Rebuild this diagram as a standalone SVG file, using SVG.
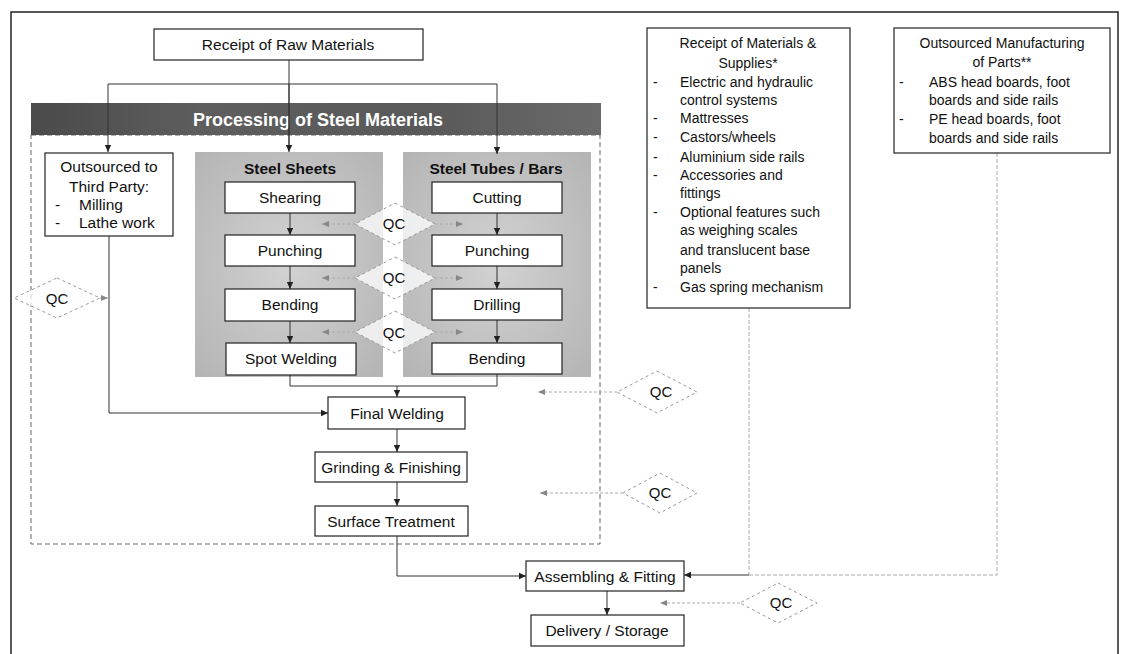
<svg xmlns="http://www.w3.org/2000/svg" width="1123" height="654" viewBox="0 0 1123 654">
<defs>
<style>
.t{font-family:"Liberation Sans",Arial,sans-serif;font-size:14px;fill:#111}
.l{font-size:15.5px}
.q{font-size:15px}
.c{text-anchor:middle}
.b{font-weight:bold}
.box{fill:#fff;stroke:#222;stroke-width:1.2}
.ln{fill:none;stroke:#333;stroke-width:1}
.qc{fill:#fff;fill-opacity:0.75;stroke:#999;stroke-width:1;stroke-dasharray:3 3}
.ql{fill:none;stroke:#aaa;stroke-width:1;stroke-dasharray:3 2}
.gl{fill:none;stroke:#aaa;stroke-width:1;stroke-dasharray:4 2}
</style>
<marker id="ah" markerWidth="8" markerHeight="8" refX="7" refY="4" orient="auto" markerUnits="userSpaceOnUse">
<path d="M0,0.8 L7,4 L0,7.2 z" fill="#222"/>
</marker>
<marker id="gh" markerWidth="8" markerHeight="8" refX="7" refY="4" orient="auto" markerUnits="userSpaceOnUse">
<path d="M0,1 L7,4 L0,7 z" fill="#888"/>
</marker>
<linearGradient id="hdr" x1="0" y1="0" x2="1" y2="0">
<stop offset="0" stop-color="#4a4a4a"/>
<stop offset="0.3" stop-color="#5e5e5e"/>
<stop offset="0.7" stop-color="#595959"/>
<stop offset="1" stop-color="#6a6a6a"/>
</linearGradient>
<radialGradient id="pan" cx="0.5" cy="0.5" r="0.7">
<stop offset="0" stop-color="#d2d2d2"/>
<stop offset="1" stop-color="#b4b4b4"/>
</radialGradient>
</defs>
<rect width="1123" height="654" fill="#fff"/>
<rect x="11" y="12" width="1107" height="670" fill="none" stroke="#222" stroke-width="1.5"/>

<g id="steel-area">
<rect x="31" y="135" width="569" height="409" fill="none" stroke="#666" stroke-width="1" stroke-dasharray="5 3"/>
<rect x="31" y="103" width="570" height="32" fill="url(#hdr)"/>
<text x="318" y="126" class="t c b" style="font-size:18px;fill:#fff">Processing of Steel Materials</text>
<rect x="195" y="152" width="188" height="225" fill="url(#pan)"/>
<rect x="403" y="152" width="188" height="225" fill="url(#pan)"/>
<text x="290" y="174" class="t l c b">Steel Sheets</text>
<text x="496" y="174" class="t l c b">Steel Tubes / Bars</text>
</g>

<g id="connectors">
<path class="ln" d="M289,60 V150"/>
<path class="ln" d="M108,84 H497"/>
<path class="ln" d="M108,84 V152" marker-end="url(#ah)"/>
<path class="ln" d="M289,84 V152" marker-end="url(#ah)"/>
<path class="ln" d="M497,84 V154" marker-end="url(#ah)"/>
<path class="ln" d="M290,213 V235" marker-end="url(#ah)"/>
<path class="ln" d="M290,266 V289" marker-end="url(#ah)"/>
<path class="ln" d="M290,321 V343" marker-end="url(#ah)"/>
<path class="ln" d="M497,213 V235" marker-end="url(#ah)"/>
<path class="ln" d="M497,266 V289" marker-end="url(#ah)"/>
<path class="ln" d="M497,320 V343" marker-end="url(#ah)"/>
<path class="ln" d="M290,375 V386 H497 V374"/>
<path class="ln" d="M397,386 V397" marker-end="url(#ah)"/>
<path class="ln" d="M109,236 V413 H328" marker-end="url(#ah)"/>
<path class="ln" d="M397,429 V452" marker-end="url(#ah)"/>
<path class="ln" d="M397,482 V506" marker-end="url(#ah)"/>
<path class="ln" d="M397,536 V576 H526" marker-end="url(#ah)"/>
<path class="ln" d="M607,591 V615" marker-end="url(#ah)"/>
<path class="gl" d="M997,153 V575 H749"/>
<path class="gl" d="M749,308 V575"/>
<path class="ln" d="M749,575 H684" marker-end="url(#ah)"/>
<path class="ql" d="M355,224 H322" marker-end="url(#gh)"/>
<path class="ql" d="M435,224 H463" marker-end="url(#gh)"/>
<path class="ql" d="M355,278 H322" marker-end="url(#gh)"/>
<path class="ql" d="M435,278 H463" marker-end="url(#gh)"/>
<path class="ql" d="M355,332 H322" marker-end="url(#gh)"/>
<path class="ql" d="M435,332 H463" marker-end="url(#gh)"/>
<path class="ql" d="M100,298 H108" marker-end="url(#gh)"/>
<path class="ql" d="M617,392 H538" marker-end="url(#gh)"/>
<path class="ql" d="M623,493 H540" marker-end="url(#gh)"/>
<path class="ql" d="M740,603 H660" marker-end="url(#gh)"/>
</g>

<g id="receipt-raw">
<rect class="box" x="154" y="29" width="269" height="31"/>
<text x="288" y="50" class="t l c">Receipt of Raw Materials</text>
</g>

<g id="outsourced-third">
<rect class="box" x="45" y="153" width="128" height="83"/>
<text x="109" y="172" class="t l c">Outsourced to</text>
<text x="109" y="192" class="t l c">Third Party:</text>
<text x="55" y="210" class="t l">-</text><text x="79" y="210" class="t l">Milling</text>
<text x="55" y="228" class="t l">-</text><text x="79" y="228" class="t l">Lathe work</text>
</g>

<g id="shearing"><rect class="box" x="225" y="182" width="130" height="31"/><text x="290" y="203" class="t l c">Shearing</text></g>
<g id="punching-s"><rect class="box" x="225" y="235" width="130" height="31"/><text x="290" y="256" class="t l c">Punching</text></g>
<g id="bending-s"><rect class="box" x="225" y="289" width="130" height="32"/><text x="290" y="310" class="t l c">Bending</text></g>
<g id="spot-welding"><rect class="box" x="226" y="343" width="130" height="32"/><text x="291" y="364" class="t l c">Spot Welding</text></g>

<g id="cutting"><rect class="box" x="432" y="182" width="130" height="31"/><text x="497" y="203" class="t l c">Cutting</text></g>
<g id="punching-t"><rect class="box" x="432" y="235" width="130" height="31"/><text x="497" y="256" class="t l c">Punching</text></g>
<g id="drilling"><rect class="box" x="432" y="289" width="130" height="31"/><text x="497" y="310" class="t l c">Drilling</text></g>
<g id="bending-t"><rect class="box" x="432" y="343" width="130" height="31"/><text x="497" y="364" class="t l c">Bending</text></g>

<g id="qc1"><path class="qc" d="M395,203 L435,224 L395,245 L355,224 z"/><text x="394" y="229" class="t q c">QC</text></g>
<g id="qc2"><path class="qc" d="M395,257 L435,278 L395,299 L355,278 z"/><text x="394" y="283" class="t q c">QC</text></g>
<g id="qc3"><path class="qc" d="M395,311 L435,332 L395,353 L355,332 z"/><text x="394" y="338" class="t q c">QC</text></g>
<g id="qc-left"><path class="qc" d="M57,278 L100,298 L57,318 L14,298 z"/><text x="57" y="304" class="t q c">QC</text></g>
<g id="qc-r1"><path class="qc" d="M657,371 L697,392 L657,413 L617,392 z"/><text x="661" y="397" class="t q c">QC</text></g>
<g id="qc-r2"><path class="qc" d="M660,473 L697,493 L660,513 L623,493 z"/><text x="660" y="498" class="t q c">QC</text></g>
<g id="qc-r3"><path class="qc" d="M778,583 L817,603 L778,623 L740,603 z"/><text x="781" y="608" class="t q c">QC</text></g>

<g id="final-welding"><rect class="box" x="328" y="397" width="137" height="32"/><text x="397" y="419" class="t l c">Final Welding</text></g>
<g id="grinding"><rect class="box" x="315" y="452" width="152" height="30"/><text x="391" y="473" class="t l c">Grinding &amp; Finishing</text></g>
<g id="surface"><rect class="box" x="315" y="506" width="153" height="30"/><text x="391" y="527" class="t l c">Surface Treatment</text></g>
<g id="assembling"><rect class="box" x="526" y="561" width="158" height="30"/><text x="605" y="582" class="t l c">Assembling &amp; Fitting</text></g>
<g id="delivery"><rect class="box" x="531" y="615" width="153" height="31"/><text x="607" y="636" class="t l c">Delivery / Storage</text></g>

<g id="receipt-supplies">
<rect class="box" x="647" y="28" width="203" height="280"/>
<text x="748" y="48" class="t c">Receipt of Materials &amp;</text>
<text x="748" y="68" class="t c">Supplies*</text>
<g class="t">
<text x="653" y="87">-</text><text x="680" y="87">Electric and hydraulic</text>
<text x="680" y="105">control systems</text>
<text x="653" y="123">-</text><text x="680" y="123">Mattresses</text>
<text x="653" y="142">-</text><text x="680" y="142">Castors/wheels</text>
<text x="653" y="162">-</text><text x="680" y="162">Aluminium side rails</text>
<text x="653" y="180">-</text><text x="680" y="180">Accessories and</text>
<text x="680" y="198">fittings</text>
<text x="653" y="217">-</text><text x="680" y="217">Optional features such</text>
<text x="680" y="235">as weighing scales</text>
<text x="680" y="255">and translucent base</text>
<text x="680" y="273">panels</text>
<text x="653" y="292">-</text><text x="680" y="292">Gas spring mechanism</text>
</g>
</g>

<g id="outsourced-mfg">
<rect class="box" x="894" y="28" width="216" height="125"/>
<text x="1002" y="48" class="t c">Outsourced Manufacturing</text>
<text x="1002" y="67" class="t c">of Parts**</text>
<g class="t">
<text x="899" y="87">-</text><text x="929" y="87">ABS head boards, foot</text>
<text x="929" y="105">boards and side rails</text>
<text x="899" y="124">-</text><text x="929" y="124">PE head boards, foot</text>
<text x="929" y="143">boards and side rails</text>
</g>
</g>
</svg>
